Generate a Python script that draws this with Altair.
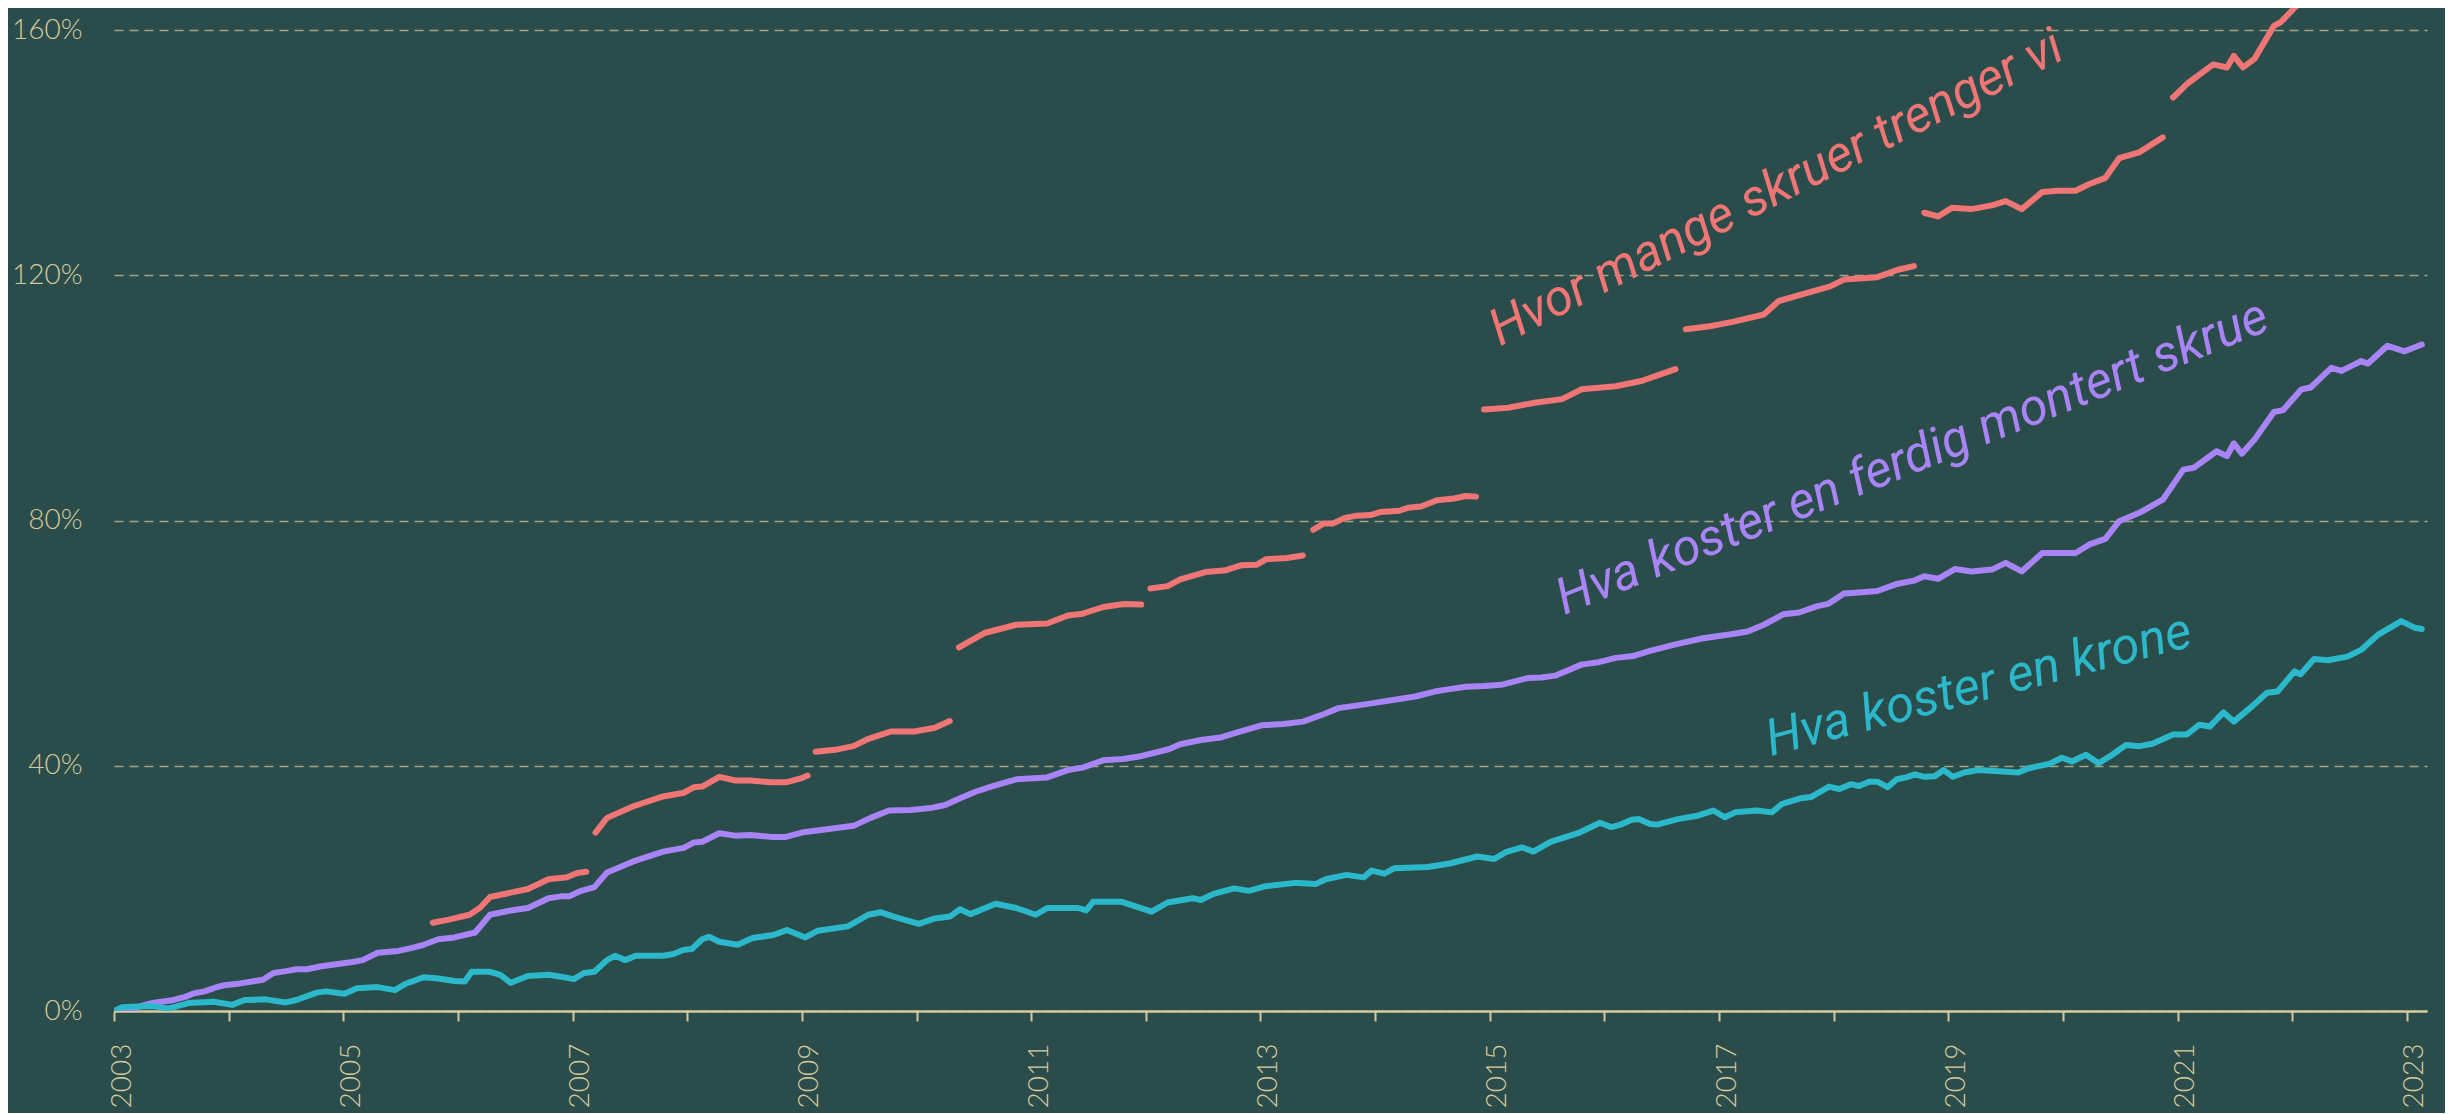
import altair as alt
import pandas as pd

# ---- data (decimal year, percent change since Jan 2003) ----
purple_t = [2003.00, 2003.07, 2003.16, 2003.25, 2003.34, 2003.52, 2003.62, 2003.70, 2003.79, 2003.88, 2003.96,
            2004.10, 2004.23, 2004.30, 2004.39, 2004.50, 2004.59, 2004.68, 2004.81, 2004.97,
            2005.08, 2005.17, 2005.30, 2005.48, 2005.60, 2005.70, 2005.83, 2005.97,
            2006.15, 2006.28, 2006.46, 2006.61, 2006.79, 2006.90, 2006.97,
            2007.06, 2007.19, 2007.30, 2007.53, 2007.79, 2007.97,
            2008.06, 2008.13, 2008.28, 2008.42, 2008.55, 2008.73, 2008.86,
            2009.00, 2009.20, 2009.45, 2009.60, 2009.76, 2009.95,
            2010.12, 2010.25, 2010.38, 2010.52, 2010.65, 2010.87,
            2011.14, 2011.32, 2011.45, 2011.63, 2011.80, 2011.94,
            2012.20, 2012.30, 2012.48, 2012.65, 2012.79,
            2013.01, 2013.20, 2013.37, 2013.55, 2013.68, 2013.94,
            2014.21, 2014.35, 2014.52, 2014.65, 2014.79, 2014.95,
            2015.10, 2015.33, 2015.45, 2015.57, 2015.80, 2015.95,
            2016.10, 2016.25, 2016.39, 2016.62, 2016.86,
            2017.09, 2017.25, 2017.39, 2017.56, 2017.70, 2017.85, 2017.95,
            2018.09, 2018.25, 2018.38, 2018.56, 2018.70, 2018.79, 2018.91,
            2019.06, 2019.20, 2019.38, 2019.50, 2019.64, 2019.82, 2019.96,
            2020.11, 2020.23, 2020.37, 2020.49, 2020.67, 2020.87,
            2021.05, 2021.14, 2021.34, 2021.43, 2021.49, 2021.56, 2021.67, 2021.84, 2021.92,
            2022.08, 2022.16, 2022.34, 2022.43, 2022.60, 2022.66, 2022.83, 2022.98, 2023.13]
purple_v = [0.0, 0.1, 0.3, 0.9, 1.3, 1.8, 2.3, 2.9, 3.2, 3.8, 4.2,
            4.5, 4.9, 5.1, 6.2, 6.5, 6.8, 6.8, 7.3, 7.7,
            8.0, 8.3, 9.5, 9.8, 10.3, 10.8, 11.7, 12.0,
            12.8, 15.7, 16.4, 16.8, 18.4, 18.7, 18.7,
            19.5, 20.2, 22.6, 24.4, 26.0, 26.6,
            27.5, 27.6, 29.0, 28.6, 28.7, 28.4, 28.4,
            29.1, 29.6, 30.2, 31.5, 32.7, 32.8,
            33.1, 33.6, 34.7, 35.8, 36.6, 37.8,
            38.1, 39.3, 39.7, 40.9, 41.1, 41.5,
            42.7, 43.5, 44.2, 44.6, 45.4,
            46.6, 46.8, 47.2, 48.4, 49.4, 50.1,
            50.9, 51.3, 52.1, 52.5, 52.9, 53.0,
            53.2, 54.3, 54.4, 54.7, 56.5, 56.9,
            57.6, 57.9, 58.7, 59.8, 60.8,
            61.4, 61.9, 63.0, 64.7, 65.0, 66.0, 66.4,
            68.1, 68.3, 68.5, 69.7, 70.2, 70.9, 70.5,
            72.1, 71.7, 72.0, 73.1, 71.7, 74.7, 74.7,
            74.7, 76.1, 77.0, 79.9, 81.3, 83.4,
            88.3, 88.6, 91.3, 90.5, 92.6, 90.9, 93.2, 97.7, 98.0,
            101.4, 101.7, 104.9, 104.4, 106.0, 105.6, 108.5, 107.6, 108.7]

cyan_t = [2003.00, 2003.07, 2003.16, 2003.34, 2003.47, 2003.65, 2003.87,
          2004.03, 2004.14, 2004.32, 2004.50, 2004.59, 2004.77, 2004.85,
          2005.01, 2005.12, 2005.30, 2005.45, 2005.54, 2005.70, 2005.83, 2005.97,
          2006.06, 2006.12, 2006.28, 2006.37, 2006.46, 2006.61, 2006.79, 2006.90,
          2007.01, 2007.10, 2007.19, 2007.30, 2007.37, 2007.46, 2007.55, 2007.79, 2007.88, 2007.97,
          2008.04, 2008.13, 2008.19, 2008.28, 2008.44, 2008.57, 2008.75, 2008.87,
          2009.03, 2009.14, 2009.40, 2009.58, 2009.69, 2009.80,
          2010.02, 2010.16, 2010.29, 2010.38, 2010.47, 2010.69, 2010.87,
          2011.04, 2011.14, 2011.41, 2011.48, 2011.54, 2011.79,
          2012.05, 2012.19, 2012.41, 2012.48, 2012.59, 2012.77, 2012.90,
          2013.03, 2013.30, 2013.48, 2013.57, 2013.75, 2013.90, 2013.97,
          2014.08, 2014.17, 2014.46, 2014.66, 2014.89,
          2015.04, 2015.14, 2015.28, 2015.38, 2015.53, 2015.77, 2015.96,
          2016.06, 2016.14, 2016.24, 2016.30, 2016.40, 2016.46, 2016.64, 2016.80, 2016.95,
          2017.05, 2017.14, 2017.33, 2017.46, 2017.55, 2017.71, 2017.80, 2017.96,
          2018.05, 2018.15, 2018.22, 2018.31, 2018.38, 2018.47, 2018.55, 2018.63, 2018.71, 2018.79, 2018.88, 2018.96,
          2019.04, 2019.14, 2019.26, 2019.61, 2019.70, 2019.88, 2019.99,
          2020.08, 2020.20, 2020.31, 2020.43, 2020.55, 2020.67, 2020.78, 2020.96,
          2021.08, 2021.19, 2021.28, 2021.40, 2021.49, 2021.63, 2021.78, 2021.87,
          2022.02, 2022.07, 2022.19, 2022.31, 2022.48, 2022.60, 2022.75, 2022.95, 2023.07, 2023.13]
cyan_v = [0.0, 0.6, 0.7, 0.8, 0.4, 1.3, 1.5,
          1.0, 1.8, 1.9, 1.4, 1.8, 3.0, 3.2,
          2.8, 3.7, 3.9, 3.4, 4.4, 5.5, 5.3, 4.9,
          4.8, 6.4, 6.4, 5.9, 4.6, 5.7, 5.9, 5.6,
          5.2, 6.2, 6.4, 8.3, 9.0, 8.3, 9.0, 9.0, 9.3, 10.0,
          10.1, 11.7, 12.1, 11.3, 10.8, 11.9, 12.4, 13.2,
          12.0, 13.1, 13.8, 15.7, 16.1, 15.4,
          14.2, 15.1, 15.4, 16.6, 15.8, 17.5, 16.8,
          15.7, 16.8, 16.8, 16.4, 17.8, 17.8,
          16.2, 17.7, 18.4, 18.1, 19.1, 20.0, 19.6,
          20.3, 20.9, 20.7, 21.5, 22.2, 21.8, 22.9,
          22.4, 23.3, 23.5, 24.1, 25.2,
          24.8, 25.9, 26.7, 26.0, 27.6, 29.0, 30.7,
          30.0, 30.4, 31.2, 31.3, 30.5, 30.4, 31.3, 31.8, 32.7,
          31.6, 32.4, 32.7, 32.4, 33.8, 34.7, 34.9, 36.6,
          36.2, 37.0, 36.7, 37.4, 37.4, 36.5, 37.8, 38.1, 38.6, 38.2, 38.3, 39.3,
          38.2, 38.9, 39.3, 38.9, 39.6, 40.3, 41.3,
          40.7, 41.8, 40.4, 41.8, 43.4, 43.2, 43.6, 45.1,
          45.1, 46.7, 46.4, 48.7, 47.2, 49.4, 51.9, 52.1,
          55.4, 54.9, 57.4, 57.2, 57.8, 58.9, 61.4, 63.6, 62.5, 62.3]

# salmon series: one list of (t, v) per segment
red_segments = [
    [(2005.78, 14.4), (2005.92, 14.9), (2006.10, 15.7), (2006.19, 16.8), (2006.28, 18.6), (2006.46, 19.3),
     (2006.61, 19.9), (2006.79, 21.5), (2006.95, 21.8), (2007.04, 22.5), (2007.12, 22.7)],
    [(2007.20, 29.1), (2007.30, 31.5), (2007.53, 33.4), (2007.79, 35.0), (2007.97, 35.6), (2008.06, 36.5),
     (2008.13, 36.6), (2008.28, 38.2), (2008.42, 37.6), (2008.55, 37.6), (2008.73, 37.3), (2008.86, 37.3),
     (2009.00, 38.0), (2009.05, 38.4)],
    [(2009.12, 42.3), (2009.29, 42.6), (2009.45, 43.2), (2009.58, 44.4), (2009.78, 45.6), (2009.98, 45.6),
     (2010.16, 46.2), (2010.29, 47.3)],
    [(2010.37, 59.3), (2010.60, 61.7), (2010.87, 63.0), (2011.14, 63.2), (2011.32, 64.5), (2011.45, 64.8),
     (2011.63, 65.9), (2011.81, 66.4), (2011.96, 66.3)],
    [(2012.04, 68.9), (2012.19, 69.3), (2012.30, 70.4), (2012.52, 71.6), (2012.70, 71.9), (2012.83, 72.7),
     (2012.97, 72.8), (2013.05, 73.7), (2013.23, 73.9), (2013.37, 74.3)],
    [(2013.46, 78.5), (2013.55, 79.5), (2013.63, 79.5), (2013.73, 80.4), (2013.84, 80.8), (2013.96, 80.9),
     (2014.05, 81.4), (2014.21, 81.6), (2014.29, 82.1), (2014.40, 82.3), (2014.54, 83.3), (2014.69, 83.6),
     (2014.79, 84.0), (2014.88, 83.9)],
    [(2014.95, 98.1), (2015.16, 98.4), (2015.39, 99.2), (2015.63, 99.8), (2015.80, 101.4), (2016.10, 101.9),
     (2016.33, 102.8), (2016.45, 103.6), (2016.62, 104.7)],
    [(2016.71, 111.2), (2016.92, 111.7), (2017.12, 112.4), (2017.39, 113.6), (2017.52, 115.8), (2017.80, 117.3),
     (2017.97, 118.2), (2018.09, 119.3), (2018.38, 119.7), (2018.56, 120.9), (2018.70, 121.5)],
    [(2018.79, 130.2), (2018.91, 129.6), (2019.03, 131.0), (2019.20, 130.8), (2019.38, 131.4), (2019.50, 132.1),
     (2019.64, 130.8), (2019.82, 133.6), (2019.96, 133.8), (2020.11, 133.8), (2020.23, 134.9), (2020.37, 135.9),
     (2020.49, 139.1), (2020.67, 140.1), (2020.87, 142.5)],
    [(2020.96, 149.0), (2021.08, 151.2), (2021.31, 154.4), (2021.43, 153.9), (2021.49, 155.8), (2021.57, 153.9),
     (2021.67, 155.3), (2021.84, 160.7), (2021.90, 161.3), (2022.08, 164.8), (2022.16, 165.5), (2022.34, 168.0)],
]

labels_text = ["Hvor mange skruer trenger vi", "Hva koster en ferdig montert skrue", "Hva koster en krone"]
labels_t = [2015.09, 2015.65, 2017.45]
labels_v = [108.4, 64.6, 41.6]
labels_angle = [333, 338, 345.4]

year_ticks = list(range(2003, 2024))
pct_ticks = [0, 40, 80, 120, 160]

BG = "#2a4d4b"
BEIGE = "#d6c99b"
GRID = "#a3a386"
C_CYAN = "#2bb8cb"
C_PURPLE = "#a984f6"
C_RED = "#f07575"
labels_color = [C_RED, C_PURPLE, C_CYAN]

df_p = pd.DataFrame({"t": purple_t, "v": purple_v})
df_c = pd.DataFrame({"t": cyan_t, "v": cyan_v})
df_r = pd.DataFrame([{"t": t, "v": v, "seg": i} for i, seg in enumerate(red_segments) for (t, v) in seg])
df_l = pd.DataFrame({"t": labels_t, "v": labels_v, "text": labels_text,
                     "angle": labels_angle, "color": labels_color})

AXFONT = "Lato"

x_enc = alt.X("t:Q", scale=alt.Scale(domain=[2003, 2023.175], nice=False, zero=False),
              axis=alt.Axis(values=year_ticks, format="d",
                            labelExpr="datum.value % 2 == 1 ? datum.label : ''",
                            labelAngle=270, labelFont=AXFONT, labelFontWeight=300,
                            labelFontSize=28, labelColor=BEIGE,
                            labelPadding=22, labelOffset=8, labelOverlap=False,
                            tickSize=10, tickColor=BEIGE, tickWidth=2,
                            domainColor=BEIGE, domainWidth=2.5, grid=False, title=None))
y_enc = alt.Y("v:Q", scale=alt.Scale(domain=[0, 163.6], nice=False),
              axis=alt.Axis(values=pct_ticks, labelExpr="datum.value + '%'",
                            domain=False, ticks=False, tickSize=0, labelPadding=32,
                            labelFont=AXFONT, labelFontWeight=300, labelFontSize=28, labelColor=BEIGE,
                            grid=True, gridColor=GRID, gridDash=[9, 6], gridWidth=1.5, title=None))

line_kw = dict(strokeWidth=6, strokeCap="round", strokeJoin="round", clip=True)

purple = alt.Chart(df_p).mark_line(color=C_PURPLE, **line_kw).encode(x=x_enc, y=y_enc)
red = alt.Chart(df_r).mark_line(color=C_RED, **line_kw).encode(x="t:Q", y="v:Q", detail="seg:N")
cyan = alt.Chart(df_c).mark_line(color=C_CYAN, **line_kw).encode(x="t:Q", y="v:Q")
texts = alt.Chart(df_l).mark_text(align="left", baseline="alphabetic", font="Roboto",
                                  fontStyle="italic", fontSize=51).encode(
    x="t:Q", y="v:Q", text="text:N",
    angle=alt.Angle("angle:Q", scale=None),
    color=alt.Color("color:N", scale=None))

chart = alt.layer(purple, red, cyan, texts).properties(
    width=2313, height=1003,
    autosize=alt.AutoSizeParams(type="none"),
    padding={"left": 106, "top": 0, "right": 18, "bottom": 102},
    background=BG,
).configure_view(stroke=None)

chart.save("out.html", embed_options={"renderer": "svg", "actions": False})
